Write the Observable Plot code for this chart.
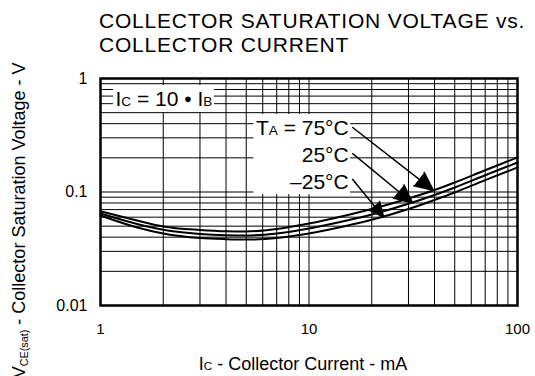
<!DOCTYPE html>
<html>
<head>
<meta charset="utf-8">
<script src="https://cdn.jsdelivr.net/npm/d3@7"></script>
<script src="https://cdn.jsdelivr.net/npm/@observablehq/plot@0.6"></script>
<style>
  html, body { margin: 0; padding: 0; background: #fff; }
  #chart { width: 535px; height: 376px; overflow: hidden; font-family: "Liberation Sans", Arial, sans-serif; color: #000; }
  #title { box-sizing: border-box; height: 60px; padding: 9px 0 0 99px; font-size: 21px; line-height: 23.5px; letter-spacing: 0.8px; white-space: nowrap; }
  #chart svg { display: block; }
</style>
</head>
<body>
<div id="chart">
  <div id="title">COLLECTOR SATURATION VOLTAGE vs.<br>COLLECTOR CURRENT</div>
</div>
<script>
// Collector current, mA
const current = [1, 1.5, 2, 3, 4, 5, 7, 10, 15, 20, 30, 40, 50, 70, 100];
// Collector-emitter saturation voltage, V, at Ic = 10·Ib
const vce75  = [0.0677, 0.0561, 0.0497, 0.0463, 0.0451, 0.0449, 0.0472, 0.0528, 0.0621, 0.0708, 0.0877, 0.1042, 0.1213, 0.1556, 0.2014];
const vce25  = [0.0647, 0.0523, 0.0465, 0.0427, 0.0416, 0.0414, 0.0431, 0.0477, 0.0557, 0.0633, 0.0787, 0.0941, 0.1096, 0.1406, 0.1820];
const vceM25 = [0.0621, 0.0487, 0.0431, 0.0393, 0.0384, 0.0381, 0.0393, 0.0431, 0.0501, 0.0569, 0.0708, 0.0851, 0.0990, 0.1271, 0.1644];
const temperatures = ["75°C", "25°C", "–25°C"];

// Axis ticks and log grid
const xTicks = [1, 10, 100];
const xTickLabels = ["1", "10", "100"];
const yTicks = [0.01, 0.1, 1];
const yTickLabels = ["0.01", "0.1", "1"];
const xGrid = [2, 3, 4, 5, 6, 7, 8, 9, 10, 20, 30, 40, 50, 60, 70, 80, 90];
const yGrid = [0.02, 0.03, 0.04, 0.05, 0.06, 0.07, 0.08, 0.09, 0.1, 0.2, 0.3, 0.4, 0.5, 0.6, 0.7, 0.8, 0.9];

// Text pieces: [text, style] where style is "small" (reduced size) or "sub" (subscript)
const xLabelParts = [["I"], ["C", "small"], [" - Collector Current - mA"]];
const yLabelParts = [["V"], ["CE(sat)", "sub"], [" - Collector Saturation Voltage - V"]];
const conditionParts = [["I"], ["C", "small"], [" = 10 • I"], ["B", "small"]];
const tempLabelParts = [[["T"], ["A", "small"], [" = 75°C"]], [["25°C"]], [["–25°C"]]];

// Annotation anchors and arrows, in data units (mA, V)
const conditionAt = {x: 1.18, y: 0.567};
const tempLabelX = 15.5;
const tempLabelY = [0.315, 0.184, 0.107];
const arrowStartX = 16.2;
const arrowStartY = [0.370, 0.218, 0.129];
const arrowEndX = [39.5, 31.4, 22.8];
const arrowEndY = [0.1035, 0.0800, 0.0600];

const plain = (parts) => parts.map((p) => p[0]).join("");

const series = [vce75, vce25, vceM25];
const rows = temperatures.flatMap((t, k) => current.map((ic, i) => ({temp: t, ic, v: series[k][i]})));
const tempLabels = tempLabelParts.map((parts, i) => ({text: plain(parts), x: tempLabelX, y: tempLabelY[i]}));
const arrows = temperatures.map((t, i) => ({x1: arrowStartX, y1: arrowStartY[i], x2: arrowEndX[i], y2: arrowEndY[i]}));

const font = '"Liberation Sans", Arial, sans-serif';

const svg = Plot.plot({
  width: 535,
  height: 316,
  marginTop: 18,
  marginBottom: 71,
  marginLeft: 100,
  marginRight: 18,
  style: {fontFamily: font, background: "white", color: "black"},
  x: {type: "log", domain: [1, 100]},
  y: {type: "log", domain: [0.01, 1]},
  marks: [
    Plot.ruleX(xGrid, {stroke: "black", strokeWidth: 1}),
    Plot.ruleY(yGrid, {stroke: "black", strokeWidth: 1}),
    Plot.text([plain(conditionParts)], {
      x: () => conditionAt.x, y: () => conditionAt.y, text: (d) => d,
      textAnchor: "start", lineAnchor: "bottom", fontSize: 21, fill: "black"
    }),
    Plot.text(tempLabels, {
      x: "x", y: "y", text: "text",
      textAnchor: "end", lineAnchor: "bottom", fontSize: 21, fill: "black"
    }),
    Plot.line(rows, {x: "ic", y: "v", z: "temp", curve: "monotone-x", stroke: "black", strokeWidth: 2}),
    Plot.arrow(arrows, {
      x1: "x1", y1: "y1", x2: "x2", y2: "y2",
      stroke: "black", strokeWidth: 1.5, headLength: 20, headAngle: 50
    }),
    Plot.frame({stroke: "black", strokeWidth: 2.5}),
    Plot.axisX({ticks: xTicks, tickSize: 0, tickPadding: 18, fontSize: 15, label: null,
      tickFormat: (d) => xTickLabels[xTicks.indexOf(d)]}),
    Plot.axisY({ticks: yTicks, tickSize: 0, tickPadding: 13, fontSize: 16, label: null,
      tickFormat: (d) => yTickLabels[yTicks.indexOf(d)]}),
    Plot.text([plain(xLabelParts)], {
      frameAnchor: "bottom", text: (d) => d, dx: -6, dy: 64,
      lineAnchor: "bottom", fontSize: 18, fill: "black"
    }),
    Plot.text([plain(yLabelParts)], {
      frameAnchor: "top-left", text: (d) => d, rotate: -90, dx: -76, dy: -16,
      textAnchor: "end", lineAnchor: "bottom", fontSize: 18, fill: "black"
    })
  ]
});

document.getElementById("chart").appendChild(svg);

const SVGNS = "http://www.w3.org/2000/svg";

// Remember the text groups of the annotations before restyling their strings
const findGroup = (str) => {
  let g = null;
  d3.select(svg).selectAll("text").each(function () { if (this.textContent === str) g = this.parentNode; });
  return g;
};
const noteGroups = [findGroup(plain(conditionParts)), findGroup(plain(tempLabelParts[0]))];

// Replace plain strings by styled tspans (reduced letters and subscripts)
const rich = new Map();
[xLabelParts, yLabelParts, conditionParts, ...tempLabelParts].forEach((parts) => rich.set(plain(parts), parts));
d3.select(svg).selectAll("text").each(function () {
  const parts = rich.get(this.textContent);
  if (!parts || parts.length < 2) return;
  const size = parseFloat(getComputedStyle(this).fontSize);
  this.textContent = "";
  let shift = 0;
  for (const [str, kind] of parts) {
    const ts = document.createElementNS(SVGNS, "tspan");
    ts.textContent = str;
    let target = 0;
    if (kind === "small") ts.setAttribute("font-size", (size * 0.65).toFixed(2));
    if (kind === "sub") { ts.setAttribute("font-size", (size * 0.6).toFixed(2)); target = 3; }
    if (target !== shift) { ts.setAttribute("dy", target - shift); shift = target; }
    this.appendChild(ts);
  }
});

// White boxes behind the annotation texts so grid lines stop around them
for (const g of noteGroups) {
  if (!g) continue;
  const b = g.getBBox();
  const pad = 2;
  const rect = document.createElementNS(SVGNS, "rect");
  rect.setAttribute("x", b.x - pad);
  rect.setAttribute("y", b.y - pad);
  rect.setAttribute("width", b.width + 2 * pad);
  rect.setAttribute("height", b.height + 2 * pad);
  rect.setAttribute("fill", "white");
  rect.setAttribute("stroke", "none");
  g.parentNode.insertBefore(rect, g);
}

// Filled arrowheads
d3.select(svg).selectAll('g[aria-label="arrow"] path')
  .attr("fill", "black")
  .attr("stroke-linejoin", "miter");
</script>
</body>
</html>
